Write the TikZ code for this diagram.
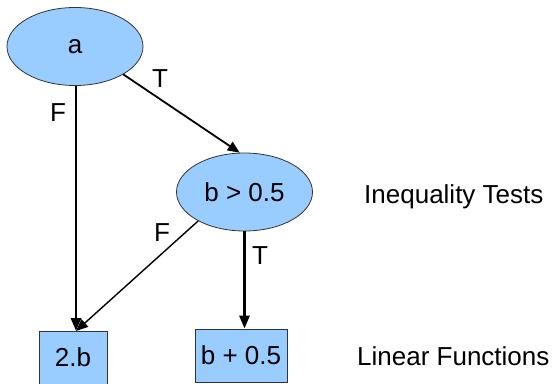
\documentclass[tikz,border=0pt]{standalone}
\usepackage{fontspec}
\setmainfont{Liberation Sans}
\usetikzlibrary{shapes.geometric,arrows.meta}
\definecolor{nodeblue}{HTML}{99CCFF}
\definecolor{edgegray}{HTML}{333333}
\tikzset{
  every node/.style={font=\fontsize{26}{31}\selectfont},
  testnode/.style={ellipse, draw=edgegray, line width=0.8pt, fill=nodeblue, minimum width=136pt, minimum height=78pt, inner sep=0pt},
  funcnode/.style={rectangle, draw=edgegray, line width=0.8pt, fill=nodeblue, inner sep=0pt},
  thickarrow/.style={line width=2.8pt, -{Triangle[length=13pt,width=10pt]}},
  thinarrow/.style={line width=1.8pt, -{Triangle[length=12pt,width=10pt]}},
  lbl/.style={inner sep=0pt}
}
\begin{document}
\begin{tikzpicture}[x=1pt,y=-1pt]
\useasboundingbox (0,0) rectangle (553,383);
\node[testnode] (a) at (75,46.5) {a};
\node[testnode] (b) at (244.5,192) {b > 0.5};
\node[funcnode, minimum width=68pt, minimum height=53pt] (f1) at (73,357.5) {2.b};
\node[funcnode, minimum width=92pt, minimum height=53pt] (f2) at (241,355.5) {b + 0.5};
\coordinate (f1in) at (76,331);
\draw[thickarrow] (a.south -| f1in) -- (f1in);
\draw[thinarrow] (a.-30) -- (b.97);
\draw[thinarrow, line width=1.4pt] (b.-148) -- (f1in);
\draw[thickarrow] (b.south) -- (b.south |- f2.north);
\node[lbl] (lf1) at (58,113) {F};
\node[lbl] (lt1) at (160,79) {T};
\node[lbl] (lf2) at (162,233) {F};
\node[lbl] (lt2) at (260,256) {T};
\node[lbl, anchor=base west] (ineq) at (364,203) {Inequality Tests};
\node[lbl, anchor=base west] (lin) at (357,365) {Linear Functions};
\end{tikzpicture}
\end{document}
